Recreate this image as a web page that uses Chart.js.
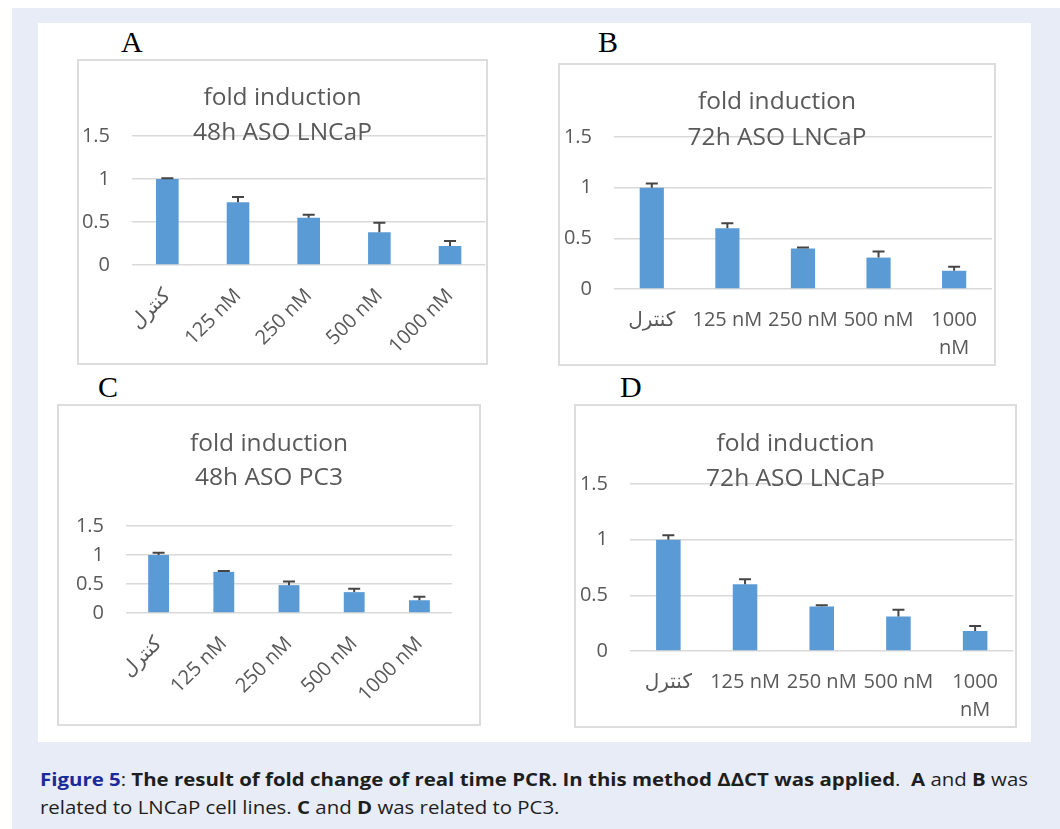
<!DOCTYPE html>
<html>
<head>
<meta charset="utf-8">
<script src="https://cdn.jsdelivr.net/npm/chart.js@4.4.1/dist/chart.umd.min.js"></script>
<style>
  html, body { margin: 0; padding: 0; background: #fff; }
  body { width: 1060px; height: 829px; position: relative; overflow: hidden; font-family: 'Open Sans', 'DejaVu Sans', sans-serif; }
  #band { position: absolute; left: 12px; top: 8px; width: 1048px; height: 821px; background: #e7ecf6; }
  #sheet { position: absolute; left: 38px; top: 23px; width: 993px; height: 719px; background: #fff; }
  .panel { position: absolute; box-sizing: border-box; border: 2px solid #dcdcdc; background: #fff; }
  .panel canvas { position: absolute; left: 0; top: 0; }
  .letter { position: absolute; font-family: 'Liberation Serif', 'Times New Roman', serif; font-size: 30px; line-height: 30px; color: #000; }
  #caption { position: absolute; left: 40px; top: 765px; font-size: 18.5px; line-height: 28px; color: #1e1e1e; transform-origin: 0 0; white-space: nowrap; }
  #caption .line { display: block; }
  #caption span.w { display: inline-block; }
  #caption b { font-weight: 700; }
  #caption .fig { color: #1b2a9a; }
</style>
</head>
<body>
<div id="band"></div>
<div id="sheet"></div>
<div id="caption">
  <span class="line"><span class="w" id="cap1"><b class="fig">Figure 5</b>: <b>The result of fold change of real time PCR. In this method ΔΔCT was applied</b>.&nbsp; <b>A</b> and <b>B</b> was</span></span>
  <span class="line"><span class="w">related to LNCaP cell lines. <b>C</b> and <b>D</b> was related to PC3.</span></span>
</div>

<script>
// 横軸カテゴリ
const categories = ['كنترل', '125 nM', '250 nM', '500 nM', '1000 nM'];

// fold induction (平均値) と誤差
const valuesA = [1.0, 0.73, 0.55, 0.38, 0.22];
const errorsA = [0.01, 0.06, 0.035, 0.11, 0.06];
const valuesB = [1.0, 0.6, 0.4, 0.31, 0.18];
const errorsB = [0.04, 0.05, 0.01, 0.06, 0.04];
const valuesC = [1.0, 0.71, 0.48, 0.36, 0.22];
const errorsC = [0.04, 0.015, 0.065, 0.06, 0.06];
const valuesD = [1.0, 0.6, 0.4, 0.31, 0.18];
const errorsD = [0.04, 0.045, 0.01, 0.06, 0.045];

// 縦軸の目盛り
const yMin = 0;
const yMax = 1.5;
const yStep = 0.5;

const titleTop = 'fold induction';
const subtitles = ['48h ASO LNCaP', '72h ASO LNCaP', '48h ASO PC3', '72h ASO LNCaP'];
const letters = ['A', 'B', 'C', 'D'];

const BAR = '#5b9bd5';
const TEXT = '#595959';
const GRID = '#d9d9d9';

// パネル配置 (ページ座標)
const panels = [
  { box: [77, 59, 411, 306], plot: [132, 486, 136, 265], title: [105, 140], rotate: true,  letter: [121, 52], values: valuesA, errors: errorsA },
  { box: [558, 63, 438, 303], plot: [614, 995, 137, 289], title: [109, 145], rotate: false, letter: [598, 52], values: valuesB, errors: errorsB },
  { box: [57, 404, 424, 322], plot: [126, 452, 526, 613], title: [451, 485], rotate: true,  letter: [98, 397], values: valuesC, errors: errorsC },
  { box: [574, 404, 443, 324], plot: [630, 1016, 484, 651], title: [451, 486], rotate: false, letter: [620, 397], values: valuesD, errors: errorsD }
];

// タイトル (プロット領域に重ねて描く)
const panelTitle = {
  id: 'panelTitle',
  afterDraw(chart, args, opts) {
    const ctx = chart.ctx;
    ctx.save();
    ctx.font = '24.5px "Open Sans"';
    ctx.fillStyle = TEXT;
    ctx.textAlign = 'center';
    ctx.textBaseline = 'alphabetic';
    opts.lines.forEach((t, i) => ctx.fillText(t, chart.width / 2, opts.baselines[i]));
    ctx.restore();
  }
};

// 上側だけのエラーバー
const errorBars = {
  id: 'errorBars',
  afterDatasetsDraw(chart) {
    const ctx = chart.ctx;
    const y = chart.scales.y;
    ctx.save();
    ctx.strokeStyle = '#454545';
    ctx.lineWidth = 2;
    chart.data.datasets.forEach((ds, di) => {
      chart.getDatasetMeta(di).data.forEach((bar, i) => {
        const y0 = y.getPixelForValue(ds.data[i]);
        const y1 = y.getPixelForValue(ds.data[i] + ds.errors[i]);
        ctx.beginPath();
        ctx.moveTo(bar.x, y0);
        ctx.lineTo(bar.x, y1);
        ctx.moveTo(bar.x - 6, y1);
        ctx.lineTo(bar.x + 6, y1);
        ctx.stroke();
      });
    });
    ctx.restore();
  }
};

panels.forEach((p, k) => {
  const [bx, by, bw, bh] = p.box;
  const div = document.createElement('div');
  div.className = 'panel';
  div.style.left = bx + 'px';
  div.style.top = by + 'px';
  div.style.width = bw + 'px';
  div.style.height = bh + 'px';
  document.body.appendChild(div);

  const cx = bx + 2, cy = by + 2, cw = bw - 4, ch = bh - 4;
  const canvas = document.createElement('canvas');
  canvas.width = cw;
  canvas.height = ch;
  canvas.style.width = cw + 'px';
  canvas.style.height = ch + 'px';
  div.appendChild(canvas);

  const lab = document.createElement('div');
  lab.className = 'letter';
  lab.textContent = letters[k];
  lab.style.left = p.letter[0] + 'px';
  lab.style.top = (p.letter[1] - 25) + 'px';
  document.body.appendChild(lab);

  const [pl, pr, pt, pb] = p.plot;
  const yAxisW = pl - cx;
  const xAxisH = ch - (pb - cy);
  const padRight = Math.max(0, cw - (pr - cx));

  new Chart(canvas.getContext('2d'), {
    type: 'bar',
    data: {
      labels: categories,
      datasets: [{
        data: p.values,
        errors: p.errors,
        backgroundColor: BAR,
        borderWidth: 0,
        barPercentage: 0.32,
        categoryPercentage: 1
      }]
    },
    plugins: [panelTitle, errorBars],
    options: {
      responsive: false,
      animation: false,
      devicePixelRatio: 1,
      layout: { autoPadding: false, padding: { top: pt - cy, right: padRight, left: 0, bottom: 0 } },
      plugins: {
        legend: { display: false },
        tooltip: { enabled: false },
        panelTitle: { lines: [titleTop, subtitles[k]], baselines: [p.title[0] - cy, p.title[1] - cy] }
      },
      scales: {
        x: {
          grid: { display: false, drawTicks: false },
          border: { display: false },
          ticks: {
            color: TEXT,
            font: { family: "'Open Sans', 'DejaVu Sans'", size: 20, lineHeight: p.rotate ? 1.2 : 1.4 },
            padding: p.rotate ? 19 : 17,
            autoSkip: false,
            minRotation: p.rotate ? 45 : 0,
            maxRotation: p.rotate ? 45 : 0,
            callback: function (v) {
              const l = this.getLabelForValue(v);
              return (!p.rotate && l.length > 6) ? l.split(' ') : l;
            }
          },
          afterFit: s => { s.height = xAxisH; }
        },
        y: {
          min: yMin,
          max: yMax,
          grid: { color: GRID, lineWidth: 1.5, drawTicks: false },
          border: { display: false },
          ticks: {
            stepSize: yStep,
            color: TEXT,
            padding: 22,
            font: { family: "'Open Sans'", size: 20 },
            callback: v => String(v)
          },
          afterFit: s => { s.width = yAxisW; }
        }
      }
    }
  });
});

// キャプションの横幅を元図に合わせる
const cap1 = document.getElementById('cap1');
const scale = 988 / cap1.getBoundingClientRect().width;
document.getElementById('caption').style.transform = 'scaleX(' + scale + ')';
</script>
</body>
</html>
